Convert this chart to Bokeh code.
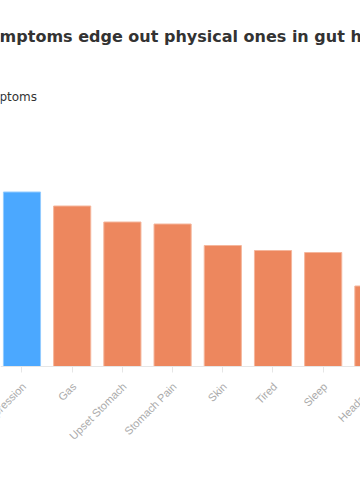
from bokeh.plotting import figure
from bokeh.models import Range1d, FixedTicker, LinearAxis
from bokeh.core.properties import value
from bokeh.embed import file_html
from bokeh.resources import INLINE
import math

# ---- data ----
symptoms = ["Depression", "Gas", "Upset Stomach", "Stomach Pain", "Skin", "Tired", "Sleep", "Headache"]
groups = ["Mental", "Physical", "Physical", "Physical", "Physical", "Physical", "Physical", "Physical"]
shares = [34.9, 32.1, 28.9, 28.5, 24.2, 23.2, 22.8, 16.1]

title_text = "Mental symptoms edge out physical ones in gut health"
subtitle_text = "Share of respondents reporting symptoms"

group_fill = {"Mental": "#4ba8ff", "Physical": "#ed875e"}
group_line = {"Mental": "#93cbff", "Physical": "#f5b69c"}

xs = list(range(len(symptoms)))
zeros = [0] * len(symptoms)
fills = [group_fill[g] for g in groups]
lines = [group_line[g] for g in groups]

W, H = 360, 500
X0, X1 = -0.428, 6.743
Y0, Y1 = -26.8, 73.2
p = figure(width=W, height=H, output_backend="svg", toolbar_location=None,
           x_range=Range1d(X0, X1), y_range=Range1d(Y0, Y1),
           x_axis_location=None, y_axis_location=None,
           min_border_left=0, min_border_right=0, min_border_top=0, min_border_bottom=0)
p.background_fill_color = "white"
p.border_fill_color = "white"
p.outline_line_color = None
p.xgrid.visible = False
p.ygrid.visible = False

p.vbar(x=xs, top=shares, bottom=0, width=0.74, fill_color=fills, line_color=lines, line_width=1)

# category axis sitting on the zero line
ax = LinearAxis(fixed_location=0, ticker=FixedTicker(ticks=xs))
ax.axis_line_color = "#e6e6e6"
ax.major_tick_line_color = "#e6e6e6"
ax.major_tick_out = 6
ax.major_tick_in = 0
ax.minor_tick_line_color = None
ax.major_label_text_alpha = 0
p.add_layout(ax, "below")

# rotated category labels
p.text(x=xs, y=zeros, text=symptoms, angle=math.pi / 4, x_offset=2, y_offset=18,
       text_font=value("Liberation Sans"), text_font_size="11px", text_color="#aaaaaa",
       text_align="right", text_baseline="middle")

# title and subtitle (screen offsets from the frame's top-left corner)
p.text(x=[X0], y=[Y1], text=[title_text], x_offset=-88.5, y_offset=35.5,
       text_font=value("DejaVu Sans"), text_font_style="bold", text_font_size="16px",
       text_color="#333333", text_align="left", text_baseline="alphabetic")
p.text(x=[X0], y=[Y1], text=[subtitle_text], x_offset=36.5, y_offset=96,
       text_font=value("DejaVu Sans"), text_font_size="12px",
       text_color="#333333", text_align="right", text_baseline="alphabetic")

open("out.html", "w").write(file_html(p, INLINE))
